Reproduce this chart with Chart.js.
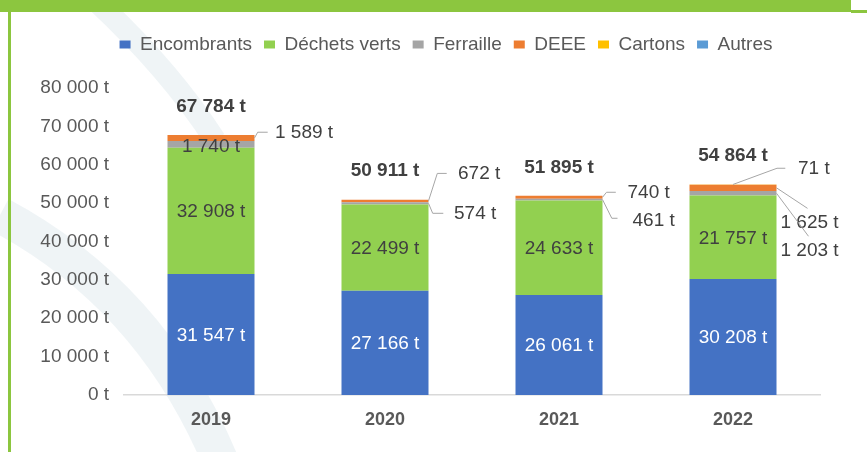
<!DOCTYPE html>
<html><head><meta charset="utf-8">
<script src="https://cdn.jsdelivr.net/npm/chart.js@4"></script>
<style>
html,body{margin:0;padding:0;background:#fff;overflow:hidden}
#wrap{position:relative;width:867px;height:452px;background:#fff}
#hdr{position:absolute;left:0;top:0;width:851px;height:12px;background:#8CC63F}
#hdr2{position:absolute;left:851px;top:10px;width:16px;height:3px;background:#8CC63F}
#lb{position:absolute;left:8px;top:0;width:3px;height:452px;background:#8CC63F}
canvas{position:absolute;left:0;top:0}
</style></head>
<body>
<div id="wrap">
<canvas id="c" width="867" height="452"></canvas>
<div id="hdr"></div><div id="hdr2"></div><div id="lb"></div>
</div>
<script>
// ---- data ----
const years = ['2019', '2020', '2021', '2022'];
const seriesNames = ['Encombrants', 'Déchets verts', 'Ferraille', 'DEEE', 'Cartons', 'Autres'];
const encombrants = [31547, 27166, 26061, 30208];
const dechetsVerts = [32908, 22499, 24633, 21757];
const ferraille = [1740, 574, 461, 1203];
const deee = [1589, 672, 740, 1625];
const cartons = [0, 0, 0, 71];
const autres = [0, 0, 0, 0];
const totals = [67784, 50911, 51895, 54864];
const yTickValues = [0, 10000, 20000, 30000, 40000, 50000, 60000, 70000, 80000];

// ---- styles ----
const colors = ['#4472C4', '#92D050', '#A5A5A5', '#ED7D31', '#FFC000', '#5B9BD5'];
const FONT = "'Liberation Sans', Arial, Helvetica, sans-serif";
const fmt = n => String(n).replace(/\B(?=(\d{3})+(?!\d))/g, ' ') + ' t';
const LEGEND_SHIFT = 36;

// label placement (styling only)
const callouts = [
  {ds: 3, i: 0, start: 'right', pts: [[3.2, -5.7], [13.2, -5.7]], text: [20.5, -4.7]},
  {ds: 3, i: 1, start: 'right', pts: [[8.8, -27.5], [18.2, -27.5]], text: [29.5, -26.8]},
  {ds: 2, i: 1, start: 'right', pts: [[4.2, 10], [14.8, 10]], text: [25.5, 10.7]},
  {ds: 3, i: 2, start: 'right', pts: [[4, -5], [13.3, -5]], text: [25, -4.6]},
  {ds: 2, i: 2, start: 'right', pts: [[9.3, 18.7], [15, 18.7]], text: [30, 21.4]},
  {ds: 4, i: 3, start: 'top', pts: [[44, -16.2], [52.3, -16.2]], text: [65, -15.2]},
  {ds: 3, i: 3, start: 'right', pts: [[31, 20.5]], text: [4, 35.2]},
  {ds: 2, i: 3, start: 'right', pts: [[32, 43]], text: [4, 57]}
];
const insideLabels = [
  {ds: 0, color: '#FFFFFF'}, {ds: 1, color: '#404040'}
];
const insideExtra = [{ds: 2, i: 0, color: '#404040'}];

const seriesData = [encombrants, dechetsVerts, ferraille, deee, cartons, autres];

const watermark = {
  id: 'watermark',
  afterLayout(chart) {
    if (chart.legend) { chart.legend.left += LEGEND_SHIFT; chart.legend.right += LEGEND_SHIFT; }
  },
  beforeDraw(chart) {
    const ctx = chart.ctx;
    ctx.save();
    ctx.strokeStyle = 'rgba(214,226,231,0.38)';
    ctx.lineCap = 'butt';
    ctx.lineWidth = 22;
    ctx.beginPath();
    ctx.moveTo(95, 0);
    ctx.quadraticCurveTo(170, 70, 215, 140);
    ctx.stroke();
    ctx.lineWidth = 36;
    ctx.beginPath();
    ctx.moveTo(0, 215);
    ctx.quadraticCurveTo(150, 295, 220, 460);
    ctx.stroke();
    ctx.restore();
  }
};

const labelsPlugin = {
  id: 'barLabels',
  afterDatasetsDraw(chart) {
    const ctx = chart.ctx;
    ctx.save();
    ctx.textBaseline = 'middle';
    ctx.font = '19px ' + FONT;
    insideLabels.forEach(l => {
      const meta = chart.getDatasetMeta(l.ds);
      meta.data.forEach((el, i) => {
        ctx.fillStyle = l.color;
        ctx.textAlign = 'center';
        ctx.fillText(fmt(seriesData[l.ds][i]), el.x, (el.y + el.base) / 2 + 1);
      });
    });
    insideExtra.forEach(l => {
      const el = chart.getDatasetMeta(l.ds).data[l.i];
      ctx.fillStyle = l.color;
      ctx.textAlign = 'center';
      ctx.fillText(fmt(seriesData[l.ds][l.i]), el.x, (el.y + el.base) / 2 + 2);
    });
    callouts.forEach(c => {
      const el = chart.getDatasetMeta(c.ds).data[c.i];
      const half = el.width / 2;
      let sx, sy, bx;
      if (c.start === 'right') { sx = el.x + half; sy = (el.y + el.base) / 2; bx = sx; }
      else { sx = el.x; sy = el.y; bx = el.x; }
      ctx.strokeStyle = '#A6A6A6';
      ctx.lineWidth = 1;
      ctx.beginPath();
      ctx.moveTo(sx, sy);
      c.pts.forEach(p => ctx.lineTo(bx + p[0], sy + p[1]));
      ctx.stroke();
      ctx.fillStyle = '#404040';
      ctx.textAlign = 'left';
      ctx.fillText(fmt(seriesData[c.ds][c.i]), bx + c.text[0], sy + c.text[1]);
    });
    ctx.font = 'bold 19px ' + FONT;
    ctx.fillStyle = '#404040';
    ctx.textAlign = 'center';
    const ys = chart.scales.y;
    const xs = chart.scales.x;
    totals.forEach((t, i) => {
      ctx.fillText(fmt(t), xs.getPixelForValue(i), ys.getPixelForValue(t) - 28.5);
    });
    ctx.restore();
  }
};

new Chart(document.getElementById('c'), {
  type: 'bar',
  data: {
    labels: years,
    datasets: seriesNames.map((name, k) => ({
      label: name,
      data: seriesData[k],
      backgroundColor: colors[k],
      borderWidth: 0,
      barPercentage: 0.5,
      categoryPercentage: 1
    }))
  },
  options: {
    responsive: false,
    animation: false,
    layout: {padding: {left: 0, right: 47, top: 23, bottom: 0}},
    plugins: {
      legend: {
        position: 'top',
        labels: {
          boxWidth: 11, boxHeight: 8, padding: 12,
          color: '#595959',
          font: {family: FONT, size: 19}
        }
      },
      tooltip: {enabled: false}
    },
    scales: {
      x: {
        stacked: true,
        grid: {display: false, drawTicks: false},
        border: {display: true, color: '#D9D9D9', width: 1.5},
        ticks: {color: '#595959', padding: 14, font: {family: FONT, size: 18, weight: 'bold'}},
        afterFit: s => { s.height = 57; }
      },
      xTop: {
        type: 'category',
        position: 'top',
        display: true,
        grid: {display: false, drawTicks: false},
        border: {display: false},
        ticks: {display: false},
        afterFit: s => { s.height = 24; }
      },
      y: {
        stacked: true,
        min: 0, max: 80000,
        afterBuildTicks: s => { s.ticks = yTickValues.map(v => ({value: v})); },
        grid: {display: false, drawTicks: false},
        border: {display: false},
        ticks: {color: '#595959', padding: 15, font: {family: FONT, size: 19}, callback: v => fmt(v)},
        afterFit: s => { s.width = 124; }
      }
    }
  },
  plugins: [watermark, labelsPlugin]
});
</script>
</body></html>
